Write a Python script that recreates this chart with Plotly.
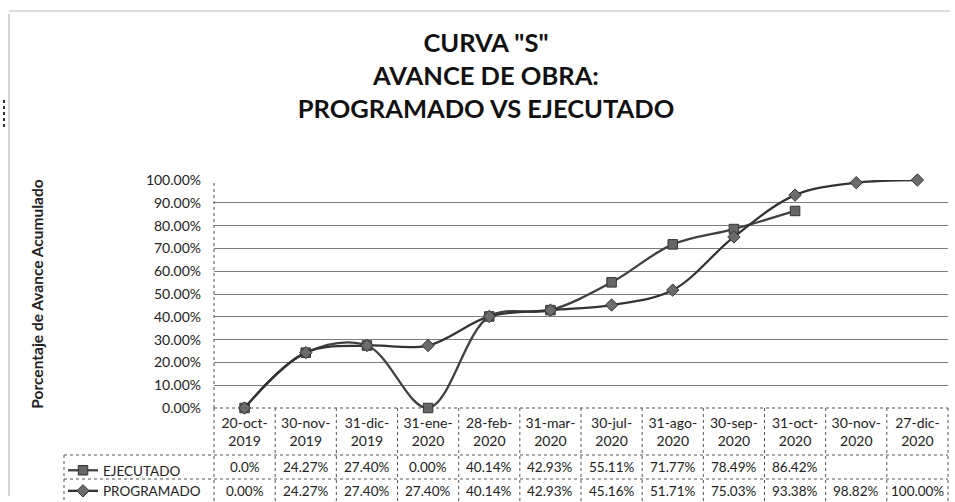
import plotly.graph_objects as go

# ---- data -------------------------------------------------------------
categories = ["20-oct-2019", "30-nov-2019", "31-dic-2019", "31-ene-2020",
              "28-feb-2020", "31-mar-2020", "30-jul-2020", "31-ago-2020",
              "30-sep-2020", "31-oct-2020", "30-nov-2020", "27-dic-2020"]
ejecutado = [0.0, 24.27, 27.40, 0.00, 40.14, 42.93, 55.11, 71.77, 78.49, 86.42, None, None]
programado = [0.00, 24.27, 27.40, 27.40, 40.14, 42.93, 45.16, 51.71, 75.03, 93.38, 98.82, 100.00]
ejecutado_labels = ["0.0%", "24.27%", "27.40%", "0.00%", "40.14%", "42.93%",
                    "55.11%", "71.77%", "78.49%", "86.42%", "", ""]
programado_labels = ["0.00%", "24.27%", "27.40%", "27.40%", "40.14%", "42.93%",
                     "45.16%", "51.71%", "75.03%", "93.38%", "98.82%", "100.00%"]
y_ticks = [0, 10, 20, 30, 40, 50, 60, 70, 80, 90, 100]

FONT = "Lato"
W, H = 955, 502
L, R, T, B = 214, 7, 180, 94
PW, PH = W - L - R, H - T - B


def px_x(p):
    return (p - L) / PW


def px_y(p):
    return (H - B - p) / PH


tick_text = [c.rsplit("-", 1)[0] + "-<br>" + c.rsplit("-", 1)[1] for c in categories]
y_tick_text = [f"{v:.2f}%" for v in y_ticks]

fig = go.Figure()
fig.add_trace(go.Scatter(
    x=categories, y=ejecutado, name="EJECUTADO", mode="lines+markers",
    legendgroup="e",
    line=dict(shape="spline", smoothing=1.0, color="#404040", width=2.3),
    marker=dict(symbol="square", size=9.5, color="#666666", line=dict(color="#333333", width=1)),
    cliponaxis=False))
fig.add_trace(go.Scatter(
    x=categories, y=programado, name="PROGRAMADO", mode="lines+markers",
    legendgroup="p",
    line=dict(shape="spline", smoothing=1.0, color="#333333", width=2.3),
    marker=dict(symbol="diamond", size=9.5, color="#6c6c6c", line=dict(color="#333333", width=1)),
    cliponaxis=False))

annotations = []
row_y = {"e": px_y(467), "p": px_y(491)}
for cat, le, lp in zip(categories, ejecutado_labels, programado_labels):
    annotations.append(dict(x=cat, xref="x", y=row_y["e"], yref="paper", text=le,
                            showarrow=False, font=dict(family=FONT, size=13.5, color="#222"),
                            xanchor="center", yanchor="middle"))
    annotations.append(dict(x=cat, xref="x", y=row_y["p"], yref="paper", text=lp,
                            showarrow=False, font=dict(family=FONT, size=13.5, color="#222"),
                            xanchor="center", yanchor="middle"))

shapes = []
grid_col = "#555555"
n = len(categories)
for k in range(n + 1):
    shapes.append(dict(type="line", xref="paper", yref="paper", x0=k / n, x1=k / n,
                       y0=0, y1=px_y(H + 2), line=dict(color=grid_col, width=1, dash="dot")))
for yy in (455, 479):
    shapes.append(dict(type="line", xref="paper", yref="paper", x0=px_x(64), x1=1,
                       y0=px_y(yy), y1=px_y(yy), line=dict(color=grid_col, width=1, dash="dot")))
shapes.append(dict(type="line", xref="paper", yref="paper", x0=px_x(64), x1=px_x(64),
                   y0=px_y(455), y1=px_y(H + 2), line=dict(color=grid_col, width=1, dash="dot")))
shapes.append(dict(type="line", xref="paper", yref="paper", x0=0, x1=1,
                   y0=0, y1=0, line=dict(color=grid_col, width=1, dash="dot")))
shapes.append(dict(type="line", xref="paper", yref="paper", x0=0, x1=0,
                   y0=0, y1=1, line=dict(color=grid_col, width=1, dash="dot")))
# faint outer frame of the scanned chart
shapes.append(dict(type="line", xref="paper", yref="paper", x0=px_x(9), x1=px_x(9),
                   y0=px_y(14), y1=px_y(496), line=dict(color="#d4d4d4", width=2)))
shapes.append(dict(type="line", xref="paper", yref="paper", x0=px_x(9), x1=px_x(950),
                   y0=px_y(11), y1=px_y(11), line=dict(color="#dedede", width=2)))
shapes.append(dict(type="line", xref="paper", yref="paper", x0=px_x(4), x1=px_x(4),
                   y0=px_y(100), y1=px_y(127), line=dict(color="#333", width=2, dash="dot")))

fig.update_layout(
    width=W, height=H,
    margin=dict(l=L, r=R, t=T, b=B, autoexpand=False),
    paper_bgcolor="white", plot_bgcolor="white",
    font=dict(family=FONT, color="#222"),
    title=dict(text='CURVA "S"<br>AVANCE DE OBRA:<br>PROGRAMADO VS EJECUTADO',
               x=486 / W, xanchor="center", y=1 - 52 / H, yanchor="top",
               font=dict(family=FONT, size=25.5, color="#111", weight="bold")),
    xaxis=dict(type="category", range=[-0.5, n - 0.5], showgrid=False, showline=False,
               zeroline=False, ticks="", tickvals=categories, ticktext=tick_text,
               ticklabelstandoff=5,
               tickfont=dict(family=FONT, size=14, color="#222")),
    yaxis=dict(range=[0, 100], tickvals=y_ticks, ticktext=y_tick_text,
               showgrid=True, gridcolor="#7c7c7c", gridwidth=1, zeroline=False,
               showline=False, ticks="", ticklabelstandoff=12,
               tickfont=dict(family=FONT, size=14, color="#222")),
    showlegend=True,
    legend=dict(x=px_x(63), y=px_y(455), xanchor="left", yanchor="top",
                orientation="v", traceorder="normal", tracegroupgap=4,
                bgcolor="rgba(0,0,0,0)", borderwidth=0, itemwidth=30,
                font=dict(family=FONT, size=13.5, color="#222")),
    annotations=annotations,
    shapes=shapes,
)
fig.update_yaxes(title=dict(text="Porcentaje de Avance Acumulado", standoff=98,
                            font=dict(family=FONT, size=15.5, color="#222", weight="bold")))

fig.write_html("out.html", config={"displayModeBar": False},
               post_script="document.body.style.margin='0';")
